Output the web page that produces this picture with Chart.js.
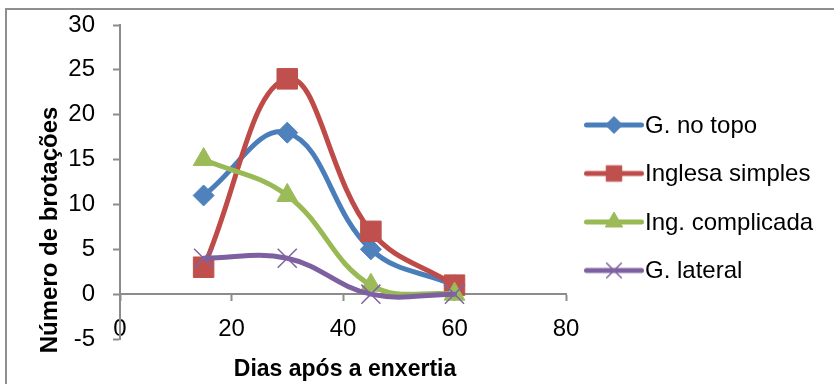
<!DOCTYPE html>
<html lang="pt">
<head>
<meta charset="utf-8">
<title>Número de brotações</title>
<script src="https://cdn.jsdelivr.net/npm/chart.js@4.4.1/dist/chart.umd.min.js"></script>
<style>
  html, body { margin: 0; padding: 0; background: #fff; }
  #wrap { position: relative; width: 834px; height: 384px; overflow: hidden; }
  #frame { position: absolute; left: 5px; top: 8px; width: 900px; height: 500px;
           border: 2px solid #8e8e8e; box-sizing: border-box; }
  canvas { position: absolute; left: 0; top: 0; }
</style>
</head>
<body>
<div id="wrap">
  <div id="frame"></div>
  <canvas id="chart" width="834" height="384"></canvas>
</div>
<script>
// Days after grafting and shoot counts per grafting method
const days = [15, 30, 45, 60];
const gNoTopo = [11, 18, 5, 1];
const inglesaSimples = [3, 24, 7, 1];
const ingComplicada = [15, 11, 1, 0];
const gLateral = [4, 4, 0, 0];
const seriesNames = ['G. no topo', 'Inglesa simples', 'Ing. complicada', 'G. lateral'];
const xTicks = [0, 20, 40, 60, 80];
const yTicks = [-5, 0, 5, 10, 15, 20, 25, 30];
const xTitle = 'Dias após a enxertia';
const yTitle = 'Número de brotações';

const seriesValues = [gNoTopo, inglesaSimples, ingComplicada, gLateral];

const FONT = '"Liberation Sans", Arial, sans-serif';
const AXIS = '#8c8c8c';

const styles = [
  { line: '#4A7EBB', fill: '#4F81BD', point: 'rectRot',  radius: 10.5, legendRadius: 8.5, pw: 1 },
  { line: '#BE4B48', fill: '#C0504D', point: 'rect',     radius: 14.5, legendRadius: 11,  pw: 1 },
  { line: '#98B954', fill: '#9BBB59', point: 'triangle', radius: 12,   legendRadius: 10,  pw: 1 },
  { line: '#7D60A0', fill: '#8064A2', point: 'crossRot', radius: 13.5, legendRadius: 11,  pw: 1.5 }
];

// Legend sample: thick line segment with the series marker in the middle
function makeIcon(st) {
  const c = document.createElement('canvas');
  c.width = 60; c.height = 28;
  const g = c.getContext('2d');
  g.strokeStyle = st.line; g.lineWidth = 5; g.lineCap = 'round';
  g.beginPath(); g.moveTo(2.5, 14); g.lineTo(57.5, 14); g.stroke();
  g.fillStyle = st.fill; g.strokeStyle = st.fill; g.lineWidth = st.pw; g.lineCap = 'butt';
  Chart.helpers.drawPoint(g, { pointStyle: st.point, radius: st.legendRadius, borderWidth: st.pw, rotation: 0 }, 30, 14);
  return c;
}
const legendIcons = styles.map(makeIcon);

// Legend column to the right of the plot area
const legendColumn = {
  id: 'legendColumn',
  afterDraw(chart) {
    const { ctx, chartArea } = chart;
    const iconX = chartArea.right + 18;
    const firstY = chartArea.top + 100;
    const step = 48.5;
    ctx.save();
    ctx.fillStyle = '#000';
    ctx.font = '24px ' + FONT;
    ctx.textAlign = 'left';
    ctx.textBaseline = 'middle';
    seriesNames.forEach((name, i) => {
      const yc = firstY + i * step;
      const icon = legendIcons[i];
      ctx.drawImage(icon, iconX, yc - icon.height / 2);
      ctx.fillText(name, iconX + icon.width + 1, yc + 1);
    });
    ctx.restore();
  }
};

// Axis titles drawn next to the plot area
const axisTitles = {
  id: 'axisTitles',
  afterDraw(chart) {
    const { ctx, chartArea } = chart;
    ctx.save();
    ctx.fillStyle = '#000';
    ctx.textAlign = 'center';
    ctx.textBaseline = 'alphabetic';
    ctx.font = 'bold 23px ' + FONT;
    ctx.fillText(xTitle, (chartArea.left + chartArea.right) / 2 + 2, chartArea.bottom + 37);
    ctx.font = 'bold 24px ' + FONT;
    ctx.translate(57, 230);
    ctx.rotate(-Math.PI / 2);
    ctx.fillText(yTitle, 0, 0);
    ctx.restore();
  }
};

Chart.defaults.color = '#000';
Chart.defaults.font.family = FONT;

new Chart(document.getElementById('chart'), {
  type: 'line',
  data: {
    datasets: seriesValues.map((vals, i) => ({
      label: seriesNames[i],
      data: days.map((d, j) => ({ x: d, y: vals[j] })),
      borderColor: styles[i].line,
      backgroundColor: styles[i].fill,
      borderWidth: 5,
      borderCapStyle: 'round',
      borderJoinStyle: 'round',
      tension: 0.4,
      fill: false,
      pointStyle: styles[i].point,
      pointRadius: styles[i].radius,
      pointBackgroundColor: styles[i].fill,
      pointBorderColor: styles[i].fill,
      pointBorderWidth: styles[i].pw,
      order: seriesValues.length - i
    }))
  },
  options: {
    responsive: false,
    devicePixelRatio: 1,
    animation: false,
    events: [],
    layout: { padding: { left: 0, top: 25, right: 268, bottom: 45 } },
    scales: {
      x: {
        type: 'linear',
        min: 0, max: 80,
        position: { y: 0 },
        afterBuildTicks: s => { s.ticks = xTicks.map(v => ({ value: v })); },
        border: { display: true, color: AXIS, width: 2 },
        grid: { drawOnChartArea: false, drawTicks: true, tickLength: 6, color: AXIS, tickColor: AXIS, tickWidth: 2 },
        ticks: { font: { size: 24 }, color: '#000', padding: 15, maxRotation: 0 }
      },
      y: {
        type: 'linear',
        min: -5, max: 30,
        afterBuildTicks: s => { s.ticks = yTicks.map(v => ({ value: v })); },
        afterFit: s => { s.width = 120; s.paddingTop = 0; s.paddingBottom = 0; },
        border: { display: true, color: AXIS, width: 2 },
        grid: { drawOnChartArea: false, drawTicks: true, tickLength: 7, color: AXIS, tickColor: AXIS, tickWidth: 2 },
        ticks: { font: { size: 24 }, color: '#000', padding: 18 }
      }
    },
    plugins: {
      tooltip: { enabled: false },
      legend: { display: false }
    }
  },
  plugins: [legendColumn, axisTitles]
});
</script>
</body>
</html>
